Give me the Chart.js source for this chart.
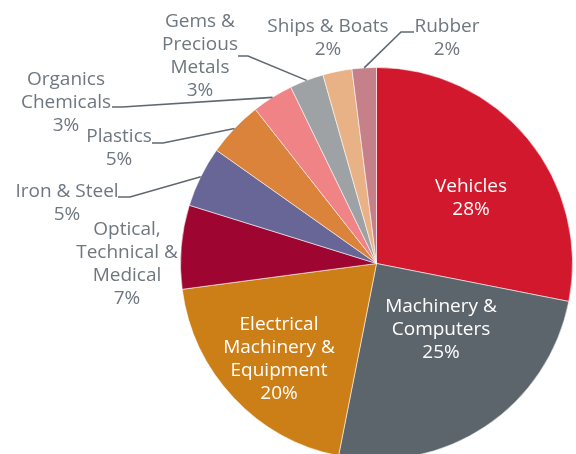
<!DOCTYPE html>
<html>
<head>
<meta charset="utf-8">
<script src="https://cdn.jsdelivr.net/npm/chart.js@4/dist/chart.umd.min.js"></script>
<style>
html,body{margin:0;padding:0;background:#fff;overflow:hidden;}
#wrap{width:576px;height:454px;overflow:hidden;position:relative;}
canvas{display:block;}
</style>
</head>
<body>
<div id="wrap"><canvas id="c" width="576" height="480"></canvas></div>
<script>
// ---- data ----
const categories = ["Vehicles", "Machinery & Computers", "Electrical Machinery & Equipment",
  "Optical, Technical & Medical", "Iron & Steel", "Plastics", "Organics Chemicals",
  "Gems & Precious Metals", "Ships & Boats", "Rubber"];
const values = [28.1, 25.0, 19.8, 6.9, 5.0, 4.6, 3.4, 2.8, 2.4, 2.0];
const labelLines = [
  ["Vehicles"],
  ["Machinery &", "Computers"],
  ["Electrical", "Machinery &", "Equipment"],
  ["Optical,", "Technical &", "Medical"],
  ["Iron & Steel"],
  ["Plastics"],
  ["Organics", "Chemicals"],
  ["Gems &", "Precious", "Metals"],
  ["Ships & Boats"],
  ["Rubber"]
];
const colors = ["#D2182C", "#5D656C", "#CC7F17", "#9E0530", "#676697",
  "#DB823B", "#EF8386", "#9EA2A5", "#E8B286", "#C6808A"];

// ---- label layout (positions of text / leader elbows, not data) ----
const labelLayout = [
  {x: 471, y: 187, inside: true},
  {x: 441, y: 307, inside: true},
  {x: 279, y: 325, inside: true},
  {x: 127, y: 230},
  {x: 67,  y: 192, leader: [[118, 197], [130, 197]]},
  {x: 119, y: 137, leader: [[152, 143], [163, 143]]},
  {x: 66,  y: 80,  leader: [[112, 107], [122, 107]]},
  {x: 200, y: 22,  leader: [[238, 56], [248, 56]]},
  {x: 328, y: 27},
  {x: 447, y: 27,  leader: [[414, 32], [401, 32]]}
];
const LINE_H = 23;
const FONT = "19px 'Open Sans', 'Noto Sans', sans-serif";

const labelPlugin = {
  id: 'pieLabels',
  afterDatasetsDraw(chart) {
    const ctx = chart.ctx;
    const meta = chart.getDatasetMeta(0);
    ctx.save();
    ctx.font = FONT;
    ctx.textAlign = 'center';
    ctx.textBaseline = 'middle';
    meta.data.forEach((arc, i) => {
      const L = labelLayout[i];
      const lines = labelLines[i].concat([Math.round(values[i]) + '%']);
      if (L.leader) {
        const p = arc.getProps(['x', 'y', 'startAngle', 'endAngle', 'outerRadius'], true);
        const mid = (p.startAngle + p.endAngle) / 2;
        const ex = p.x + Math.cos(mid) * p.outerRadius;
        const ey = p.y + Math.sin(mid) * p.outerRadius;
        ctx.strokeStyle = '#5F6870';
        ctx.lineWidth = 1.6;
        ctx.beginPath();
        ctx.moveTo(L.leader[0][0], L.leader[0][1]);
        for (let k = 1; k < L.leader.length; k++) ctx.lineTo(L.leader[k][0], L.leader[k][1]);
        ctx.lineTo(ex, ey);
        ctx.stroke();
      }
      ctx.fillStyle = L.inside ? '#FFFFFF' : '#6E7780';
      lines.forEach((t, j) => ctx.fillText(t, L.x, L.y + j * LINE_H));
    });
    ctx.restore();
  }
};

new Chart(document.getElementById('c'), {
  type: 'pie',
  data: {
    labels: categories,
    datasets: [{
      data: values,
      backgroundColor: colors,
      borderColor: 'rgba(255,255,255,0.55)',
      borderWidth: 1
    }]
  },
  options: {
    responsive: false,
    animation: false,
    layout: {padding: {left: 180, right: 3, top: 67, bottom: 20}},
    plugins: {legend: {display: false}, tooltip: {enabled: false}}
  },
  plugins: [labelPlugin]
});
</script>
</body>
</html>
